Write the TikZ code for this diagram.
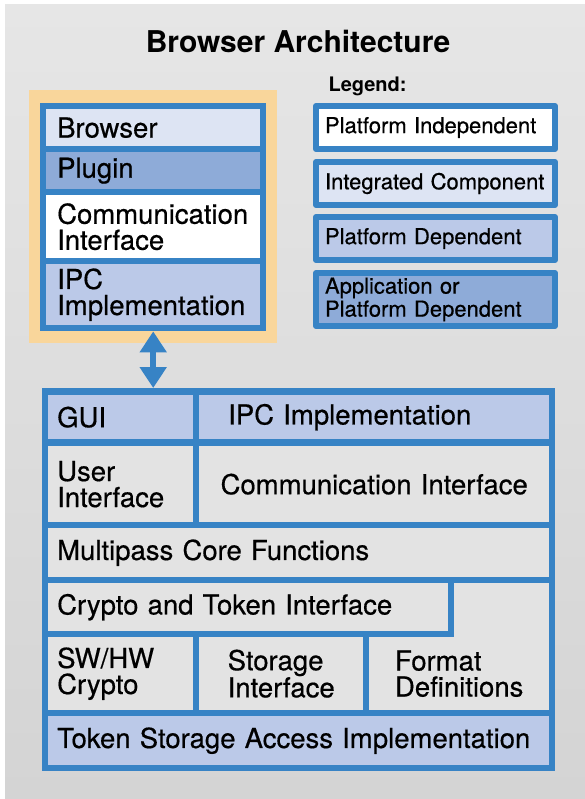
\documentclass[tikz,border=0pt]{standalone}
\usepackage{fontspec}
\setmainfont{TeX Gyre Heros}
\newfontfamily\medfont{TeX Gyre Heros}[FakeBold=0.5]
\usetikzlibrary{arrows.meta}
\definecolor{mpblue}{HTML}{3783C5}
\definecolor{intcol}{HTML}{DDE4F3}
\definecolor{depcol}{HTML}{BBC9E8}
\definecolor{appcol}{HTML}{8EABD8}
\definecolor{hostcol}{HTML}{F9D69B}
\definecolor{bgtop}{HTML}{E6E6E6}
\definecolor{bgbot}{HTML}{D4D4D4}
\definecolor{cellgray}{HTML}{E3E3E3}
\tikzset{
  every picture/.style={line cap=round, line join=round},
  bodyfont/.style={font=\medfont\fontsize{27.5}{26}\selectfont},
  % cells of the plugin stack (left aligned, fixed width)
  stackcell/.style={bodyfont, anchor=north west, inner xsep=11, inner ysep=0,
    text width=192, align=left},
  % cells of the multipass block
  cell/.style={bodyfont, anchor=north west, inner xsep=9, inner ysep=0, align=left, fill=cellgray},
  legbox/.style={draw=mpblue, line width=6, inner xsep=9, text width=221, align=left,
    font=\medfont\fontsize{22}{23}\selectfont},
  biarrow/.style={{Triangle[length=21pt, width=26pt]}-{Triangle[length=21pt, width=26pt]},
    line width=6, draw=mpblue, line cap=butt},
}
\begin{document}
\begin{tikzpicture}[x=1pt, y=-1pt]
  \useasboundingbox (0,0) rectangle (585,799);
  \fill[top color=bgtop, middle color=bgtop, bottom color=bgbot] (5,5) rectangle (585,799);
  \node[font=\fontsize{30}{32}\selectfont\bfseries] (title) at (298,41.5) {Browser Architecture};

  % ---------- plugin stack inside the browser
  \node[fill=hostcol, anchor=north west, minimum width=248, minimum height=253, inner sep=0] (host) at (29,90) {};
  \node[fill=mpblue, anchor=north west, minimum width=226, minimum height=228, inner sep=0] (stack) at (40,103) {};
  \node[stackcell, fill=intcol, minimum height=37] (browser) at (46,109) {Browser};
  \node[stackcell, fill=appcol, minimum height=37] (plugin) at (46,152) {Plugin};
  \node[stackcell, fill=white, minimum height=63] (pcomm) at (46,195) {Communication\\Interface};
  \node[stackcell, fill=depcol, minimum height=61] (pipc) at (46,264) {IPC\\Implementation};

  % ---------- legend
  \node[anchor=base west, font=\fontsize{20}{22}\selectfont\bfseries] (legend) at (325,92) {Legend:};
  \node[legbox, fill=white, minimum height=43] (indep) at (435.5,127.5) {Platform Independent};
  \node[legbox, fill=intcol, minimum height=43] (integ) at (435.5,183.5) {Integrated Component};
  \node[legbox, fill=depcol, minimum height=43] (dep) at (435.5,238.5) {Platform Dependent};
  \node[legbox, fill=appcol, minimum height=53] (appdep) at (435.5,299.5) {Application or\\Platform Dependent};

  % ---------- multipass block
  \node[fill=mpblue, anchor=north west, minimum width=513, minimum height=383, inner sep=0] (core) at (42,388) {};
  \node[cell, fill=depcol, text width=127, minimum height=44] (gui) at (48,395) {GUI};
  \node[cell, fill=depcol, inner xsep=29, text width=292, minimum height=44] (ipc) at (199,395) {IPC Implementation};
  \node[cell, text width=127, minimum height=76] (ui) at (48,446) {User\\Interface};
  \node[cell, align=center, text width=332, minimum height=76] (comm) at (199,446) {Communication Interface};
  \node[cell, text width=483, minimum height=49] (core fn) at (48,528) {Multipass Core Functions};
  \node[cell, text width=382, minimum height=48] (crypto if) at (48,583) {Crypto and Token Interface};
  \node[cell, text width=127, minimum height=73] (swhw) at (48,637) {SW/HW\\Crypto};
  \node[cell, minimum width=164, minimum height=73] (storage) at (199,637) {Storage\\Interface};
  % format definitions reach up beside the crypto interface
  \fill[cellgray] (454,583) rectangle (549,640);
  \node[cell, minimum width=180, minimum height=73] (format) at (369,637) {Format\\Definitions};
  \node[cell, fill=depcol, text width=483, minimum height=49] (token) at (48,716) {Token Storage Access Implementation};

  \draw[biarrow] (stack.south) -- (stack.south |- core.north);
\end{tikzpicture}
\end{document}
